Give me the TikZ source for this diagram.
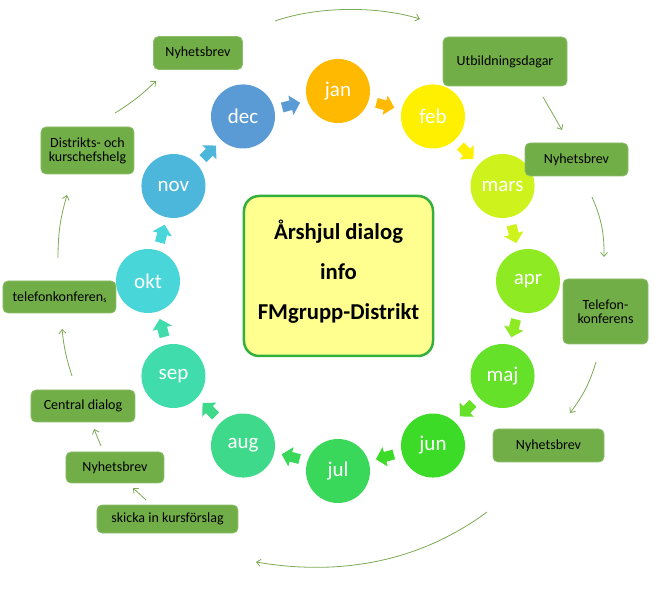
\documentclass[tikz,border=0pt]{standalone}
\usepackage{fontspec}
\setmainfont{Carlito}
\usetikzlibrary{arrows.meta}
\definecolor{cjan}{HTML}{FFB900}
\definecolor{cfeb}{HTML}{FFF000}
\definecolor{cmars}{HTML}{CDF21C}
\definecolor{capr}{HTML}{8EEA22}
\definecolor{cmaj}{HTML}{65E12A}
\definecolor{cjun}{HTML}{3BDB27}
\definecolor{cjul}{HTML}{3AD85A}
\definecolor{caug}{HTML}{3ED98A}
\definecolor{csep}{HTML}{40DCAC}
\definecolor{cokt}{HTML}{48D6D8}
\definecolor{cnov}{HTML}{4CB7DB}
\definecolor{cdec}{HTML}{5B9BD5}
\definecolor{boxfill}{HTML}{72AE48}
\definecolor{linegreen}{HTML}{7DAA55}
\definecolor{centerfill}{HTML}{FFFF8F}
\definecolor{centerdraw}{HTML}{33B03C}
\tikzset{
  month/.style={circle, minimum size=64pt, inner sep=0pt, text=white,
    font=\fontsize{21}{24}\selectfont},
  gbox/.style={rectangle, rounded corners=5pt, fill=boxfill, draw=boxfill!80!white,
    line width=0.8pt, align=center, inner sep=1pt,
    font=\fontsize{14}{16}\selectfont},
  flow/.style={draw=linegreen, line width=0.8pt, -{Straight Barb[length=4pt,width=7pt]}},
}
\begin{document}
\begin{tikzpicture}[x=1pt,y=1pt]
\useasboundingbox (-338,-312) rectangle (333,281);
% month circles
\foreach \m/\t/\c [count=\i from 0] in {jan/jan/cjan, feb/feb/cfeb, mars/mars/cmars, apr/apr/capr, maj/maj/cmaj, jun/jun/cjun, jul/jul/cjul, aug/aug/caug, sep/sep/csep, okt/okt/cokt, nov/nov/cnov, dec/dec/cdec} {
  \node[month, fill=\c] (\m) at ({90-30*\i}:190) {\t};
}
% block arrows between months
\foreach \c [count=\i from 0] in {cjan,cfeb,cmars,capr,cmaj,cjun,cjul,caug,csep,cokt,cnov,cdec} {
  \begin{scope}[shift={({75-30*\i}:182)}, rotate={-15-30*\i}]
    \fill[\c] (-9,-5) -- (0,-5) -- (0,-10) -- (9.5,0) -- (0,10) -- (0,5) -- (-9,5) -- cycle;
  \end{scope}
}
% center box
\node[rectangle, rounded corners=15pt, fill=centerfill, draw=centerdraw, line width=2.5pt,
  minimum width=189pt, minimum height=160pt] (center) at (0.5,5) {};
\node[align=center, font=\bfseries\fontsize{22.7}{40}\selectfont] (title) at (0.5,9)
  {Årshjul dialog\\info\\FMgrupp-Distrikt};
% green boxes
\node[gbox, minimum width=89pt, minimum height=33pt] (nyh1) at (-140,228) {Nyhetsbrev};
\node[gbox, minimum width=93pt, minimum height=47pt] (dist) at (-250.5,130.5) {Distrikts- och\\[-2pt]kurschefshelg};
\node[gbox, minimum width=124pt, minimum height=49pt] (utb) at (167,219.5) {Utbildningsdagar};
\node[gbox, minimum width=103pt, minimum height=33pt] (nyh2) at (238.5,121.5) {Nyhetsbrev};
\node[gbox, minimum width=85pt, minimum height=65pt] (tel) at (267.5,-30.5) {Telefon-\\[-2pt]konferens};
\node[gbox, minimum width=111pt, minimum height=33pt] (nyh3) at (210.5,-164.5) {Nyhetsbrev};
\node[gbox, minimum width=113pt, minimum height=32pt] (telk) at (-278.5,-16) {telefonkonferen\raisebox{-1.5pt}{\fontsize{8}{8}\selectfont s}};
\node[gbox, minimum width=104pt, minimum height=32pt] (cent) at (-255,-125) {Central dialog};
\node[gbox, minimum width=98pt, minimum height=31pt] (nyh4) at (-223,-186.5) {Nyhetsbrev};
\node[gbox, minimum width=141pt, minimum height=28pt] (skicka) at (-170.5,-238) {skicka in kursförslag};
% connector end points
\coordinate (t1) at (-63,260);   \coordinate (t2) at (82,262);
\coordinate (u1) at (205,184);   \coordinate (u2) at (224,151);
\coordinate (r1) at (254,84);    \coordinate (r2) at (266,24);
\coordinate (s1) at (258,-81);   \coordinate (s2) at (232,-132);
\coordinate (b1) at (149,-231);  \coordinate (b2) at (-82,-281);
\coordinate (k1) at (-192,-219); \coordinate (k2) at (-205,-207);
\coordinate (n1) at (-237,-165); \coordinate (n2) at (-244,-148);
\coordinate (c1) at (-266,-95);  \coordinate (c2) at (-276,-48);
\coordinate (l1) at (-280,23);   \coordinate (l2) at (-271,86);
\coordinate (d1) at (-223,168);  \coordinate (d2) at (-182,200);
% connectors
\draw[flow] (t1) .. controls (-20,275) and (40,275) .. (t2);
\draw[flow] (u1) -- (u2);
\draw[flow] (r1) to[bend left=12] (r2);
\draw[flow] (s1) to[bend left=10] (s2);
\draw[flow] (b1) .. controls (80,-282) and (0,-295) .. (b2);
\draw[flow] (k1) -- (k2);
\draw[flow] (n1) -- (n2);
\draw[flow] (c1) to[bend left=6] (c2);
\draw[flow] (l1) to[bend left=8] (l2);
\draw[flow] (d1) to[bend right=6] (d2);
\end{tikzpicture}
\end{document}
